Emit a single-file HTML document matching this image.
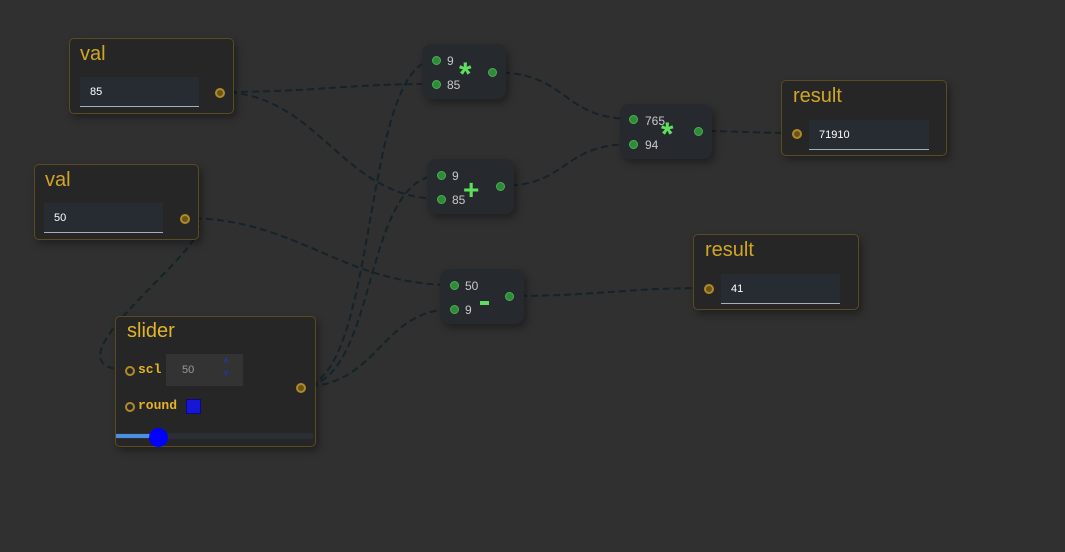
<!DOCTYPE html>
<html><head><style>
body{margin:0;width:1065px;height:552px;background:#303030;position:relative;overflow:hidden;font-family:"Liberation Sans",sans-serif}
.n{position:absolute;background:#262626;border:1px solid #5c4b1f;border-radius:5px;box-shadow:3px 4px 8px rgba(0,0,0,.35)}
.t{position:absolute;color:#d1a626;font-size:20px}
.in{position:absolute;background:#272c32;border-bottom:1px solid #a8aeb4;color:#fff;font-size:11px;line-height:30px;padding-left:10px;box-sizing:border-box}
.p{position:absolute;width:6px;height:6px;border-radius:50%;border:2px solid #b08a26;background:#6b5418}
.g{position:absolute;width:7px;height:7px;border-radius:50%;border:1px solid #4caf50;background:#2e8b3a}
.op{position:absolute;background:#262a2f;border-radius:9px;box-shadow:3px 4px 8px rgba(0,0,0,.35)}
.l{position:absolute;color:#c8c8c8;font-size:12px}
.s{position:absolute;color:#5ee05e;font-weight:bold}
svg{position:absolute;left:0;top:0}
</style></head><body>
<svg width="1065" height="552"><g fill="none" stroke="#14232a" stroke-width="2" stroke-dasharray="7,4">
<path d="M219 92 C320 92 340 84 436 84"/>
<path d="M219 92 C320 92 340 199 441 199"/>
<path d="M184 218 C300 218 340 285 454 285"/>
<path d="M184 218 C260 218 20 370 129 370"/>
<path d="M300 387 C380 387 360 60 436 60"/>
<path d="M300 387 C380 387 360 175 441 175"/>
<path d="M300 387 C380 387 380 309 454 309"/>
<path d="M492 72 C570 72 560 119 633 119"/>
<path d="M500 186 C570 186 560 144 633 144"/>
<path d="M698 131 C740 131 750 133 796 133"/>
<path d="M509 296 C600 296 620 288 708 288"/>
</g></svg>

<div class="n" style="left:69px;top:38px;width:163px;height:74px"></div>
<div class="t" style="left:80px;top:43px">val</div>
<div class="in" style="left:80px;top:77px;width:119px;height:30px">85</div>
<div class="p" style="left:215px;top:88px"></div>

<div class="n" style="left:34px;top:164px;width:163px;height:74px"></div>
<div class="t" style="left:45px;top:169px">val</div>
<div class="in" style="left:44px;top:203px;width:119px;height:30px">50</div>
<div class="p" style="left:180px;top:214px"></div>

<div class="n" style="left:115px;top:316px;width:199px;height:129px"></div>
<div class="t" style="left:127px;top:320px;color:#e0b52c">slider</div>
<div class="p" style="left:125px;top:366px;background:none"></div>
<div style="position:absolute;left:138px;top:362px;color:#e3b32a;font:bold 13px 'Liberation Mono',monospace">scl</div>
<div style="position:absolute;left:166px;top:354px;width:77px;height:32px;background:#333;color:#999;font-size:11px;line-height:32px;padding-left:16px;box-sizing:border-box">50</div>
<div style="position:absolute;left:223px;top:356px;color:#2233dd;font-size:10px;line-height:12px">˄<br>˅</div>
<div class="p" style="left:125px;top:402px;background:none"></div>
<div style="position:absolute;left:138px;top:398px;color:#e3b32a;font:bold 13px 'Liberation Mono',monospace">round</div>
<div style="position:absolute;left:186px;top:399px;width:13px;height:13px;background:#1616d8;border:1px solid #0a0a80"></div>
<div style="position:absolute;left:116px;top:433px;width:197px;height:6px;background:#2a2f34"></div>
<div style="position:absolute;left:116px;top:434px;width:42px;height:4px;background:#4a8fe0"></div>
<div style="position:absolute;left:149px;top:428px;width:19px;height:19px;border-radius:50%;background:#0000ff"></div>
<div class="p" style="left:296px;top:383px"></div>

<div class="op" style="left:422px;top:44px;width:84px;height:55px"></div>
<div class="g" style="left:432px;top:56px"></div><div class="l" style="left:447px;top:54px">9</div>
<div class="g" style="left:432px;top:80px"></div><div class="l" style="left:447px;top:78px">85</div>
<div class="s" style="left:459px;top:58px;font-size:32px;line-height:32px">*</div>
<div class="g" style="left:488px;top:68px"></div>

<div class="op" style="left:427px;top:159px;width:87px;height:55px"></div>
<div class="g" style="left:437px;top:171px"></div><div class="l" style="left:452px;top:169px">9</div>
<div class="g" style="left:437px;top:195px"></div><div class="l" style="left:452px;top:193px">85</div>
<div class="s" style="left:463px;top:176px;font-size:28px;line-height:28px">+</div>
<div class="g" style="left:496px;top:182px"></div>

<div class="op" style="left:440px;top:269px;width:84px;height:55px"></div>
<div class="g" style="left:450px;top:281px"></div><div class="l" style="left:465px;top:279px">50</div>
<div class="g" style="left:450px;top:305px"></div><div class="l" style="left:465px;top:303px">9</div>
<div style="position:absolute;left:480px;top:301px;width:9px;height:4px;background:#5ee05e"></div>
<div class="g" style="left:505px;top:292px"></div>

<div class="op" style="left:620px;top:104px;width:92px;height:55px"></div>
<div class="g" style="left:629px;top:115px"></div><div class="l" style="left:645px;top:114px">765</div>
<div class="g" style="left:629px;top:140px"></div><div class="l" style="left:645px;top:138px">94</div>
<div class="s" style="left:661px;top:118px;font-size:32px;line-height:32px">*</div>
<div class="g" style="left:694px;top:127px"></div>

<div class="n" style="left:781px;top:80px;width:164px;height:74px"></div>
<div class="t" style="left:793px;top:85px">result</div>
<div class="p" style="left:792px;top:129px"></div>
<div class="in" style="left:809px;top:120px;width:120px;height:30px">71910</div>

<div class="n" style="left:693px;top:234px;width:164px;height:74px"></div>
<div class="t" style="left:705px;top:239px">result</div>
<div class="p" style="left:704px;top:284px"></div>
<div class="in" style="left:721px;top:274px;width:119px;height:30px">41</div>
</body></html>
